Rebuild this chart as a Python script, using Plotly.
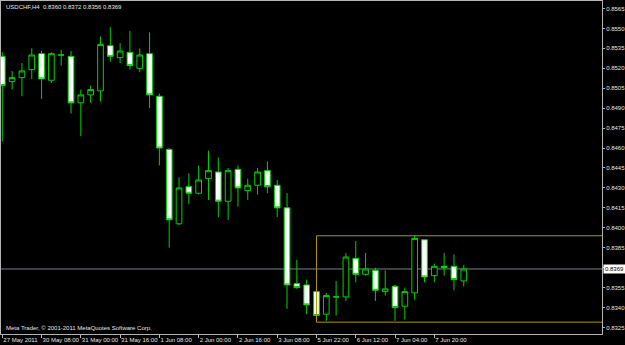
import plotly.graph_objects as go

# ---- data (USDCHF, H4) ----
bar_times = [
    "2011-05-27 20:00", "2011-05-29 22:00", "2011-05-30 00:00", "2011-05-30 04:00",
    "2011-05-30 08:00", "2011-05-30 12:00", "2011-05-30 16:00", "2011-05-30 20:00",
    "2011-05-31 00:00", "2011-05-31 04:00", "2011-05-31 08:00", "2011-05-31 12:00",
    "2011-05-31 16:00", "2011-05-31 20:00", "2011-06-01 00:00", "2011-06-01 04:00",
    "2011-06-01 08:00", "2011-06-01 12:00", "2011-06-01 16:00", "2011-06-01 20:00",
    "2011-06-02 00:00", "2011-06-02 04:00", "2011-06-02 08:00", "2011-06-02 12:00",
    "2011-06-02 16:00", "2011-06-02 20:00", "2011-06-03 00:00", "2011-06-03 04:00",
    "2011-06-03 08:00", "2011-06-03 12:00", "2011-06-03 16:00", "2011-06-03 20:00",
    "2011-06-05 22:00", "2011-06-06 00:00", "2011-06-06 04:00", "2011-06-06 08:00",
    "2011-06-06 12:00", "2011-06-06 16:00", "2011-06-06 20:00", "2011-06-07 00:00",
    "2011-06-07 04:00", "2011-06-07 08:00", "2011-06-07 12:00", "2011-06-07 16:00",
    "2011-06-07 20:00", "2011-06-08 00:00", "2011-06-08 04:00", "2011-06-08 08:00",
]
opens = [0.8529, 0.8510, 0.8513, 0.8519, 0.8531, 0.8511, 0.8530, 0.8529,
         0.8494, 0.8500, 0.8503, 0.8537, 0.8528, 0.8532, 0.8520, 0.8531,
         0.8499, 0.8459, 0.8403, 0.8431, 0.8426, 0.8437, 0.8442, 0.8420,
         0.8444, 0.8428, 0.8432, 0.8443, 0.8432, 0.8415, 0.8358, 0.8357,
         0.8352, 0.8335, 0.8348, 0.8348, 0.8377, 0.8365, 0.8368, 0.8352,
         0.8356, 0.8341, 0.8351, 0.8391, 0.8364, 0.8371, 0.8371, 0.8360]
highs = [0.8532, 0.8518, 0.8524, 0.8535, 0.8533, 0.8532, 0.8534, 0.8533,
         0.8504, 0.8507, 0.8544, 0.8551, 0.8539, 0.8548, 0.8535, 0.8547,
         0.8501, 0.8460, 0.8438, 0.8441, 0.8447, 0.8458, 0.8453, 0.8445,
         0.8447, 0.8437, 0.8445, 0.8450, 0.8436, 0.8426, 0.8376, 0.8361,
         0.8354, 0.8351, 0.8360, 0.8381, 0.8390, 0.8381, 0.8370, 0.8368,
         0.8357, 0.8355, 0.8394, 0.8391, 0.8373, 0.8381, 0.8380, 0.8372]
lows = [0.8465, 0.8504, 0.8499, 0.8512, 0.8497, 0.8509, 0.8522, 0.8486,
        0.8469, 0.8494, 0.8495, 0.8525, 0.8524, 0.8519, 0.8517, 0.8490,
        0.8447, 0.8385, 0.8402, 0.8418, 0.8425, 0.8421, 0.8408, 0.8406,
        0.8416, 0.8421, 0.8425, 0.8426, 0.8408, 0.8339, 0.8354, 0.8335,
        0.8329, 0.8330, 0.8334, 0.8345, 0.8359, 0.8364, 0.8345, 0.8349,
        0.8330, 0.8331, 0.8346, 0.8359, 0.8359, 0.8364, 0.8353, 0.8356]
closes = [0.8507, 0.8513, 0.8518, 0.8530, 0.8512, 0.8531, 0.8530, 0.8494,
          0.8500, 0.8504, 0.8538, 0.8529, 0.8533, 0.8522, 0.8530, 0.8500,
          0.8460, 0.8406, 0.8430, 0.8426, 0.8436, 0.8443, 0.8420, 0.8443,
          0.8430, 0.8432, 0.8442, 0.8431, 0.8415, 0.8357, 0.8355, 0.8342,
          0.8334, 0.8349, 0.8348, 0.8378, 0.8365, 0.8369, 0.8353, 0.8354,
          0.8340, 0.8352, 0.8392, 0.8363, 0.8371, 0.8370, 0.8361, 0.8369]

tick_times = ["2011-05-27 20:00", "2011-05-30 08:00", "2011-05-31 00:00", "2011-05-31 16:00",
              "2011-06-01 08:00", "2011-06-02 00:00", "2011-06-02 16:00", "2011-06-03 08:00",
              "2011-06-05 22:00", "2011-06-06 12:00", "2011-06-07 04:00", "2011-06-07 20:00"]
tick_labels = ["27 May 2011", "30 May 08:00", "31 May 00:00", "31 May 16:00",
               "1 Jun 08:00", "2 Jun 00:00", "2 Jun 16:00", "3 Jun 08:00",
               "5 Jun 22:00", "6 Jun 12:00", "7 Jun 04:00", "7 Jun 20:00"]
price_ticks = [0.8325, 0.8340, 0.8355, 0.8370, 0.8385, 0.8400, 0.8415, 0.8430, 0.8445,
               0.8460, 0.8475, 0.8490, 0.8505, 0.8520, 0.8535, 0.8550, 0.8565]
price_tick_labels = ["%.4f" % v for v in price_ticks]

symbol = "USDCHF,H4"
bid = closes[-1]
box_start = "2011-06-05 22:00"

# ---- styling ----
FONT = "Liberation Sans"
FS = 6
TXT = "#E6E6E6"
FRAME = "#B4B4B4"
GREEN = "#00D200"

fig = go.Figure()
fig.add_trace(go.Candlestick(
    x=bar_times, open=opens, high=highs, low=lows, close=closes,
    increasing=dict(line=dict(color=GREEN, width=1), fillcolor="#000000"),
    decreasing=dict(line=dict(color=GREEN, width=1), fillcolor="#FFFFFF"),
    whiskerwidth=0, hoverinfo="skip", showlegend=False,
))

# rectangle object over the last range
start_idx = bar_times.index(box_start)
fig.add_shape(type="rect", xref="x", yref="y",
              x0=start_idx, x1=61.3,
              y0=min(lows[start_idx:]), y1=max(highs[start_idx:]),
              line=dict(color="#B09600", width=1), fillcolor="rgba(0,0,0,0)", layer="above")
# bid line
fig.add_shape(type="line", xref="paper", yref="y", x0=0, x1=1, y0=bid, y1=bid,
              line=dict(color="#6F8290", width=1), layer="below")

o, h, l, c = opens[-1], highs[-1], lows[-1], closes[-1]
fig.add_annotation(xref="paper", yref="paper", x=0.005, y=0.997, xanchor="left", yanchor="top",
                   text=f"{symbol}  {o:.4f} {h:.4f} {l:.4f} {c:.4f}", showarrow=False,
                   font=dict(family=FONT, size=FS, color=TXT))
fig.add_annotation(xref="paper", yref="paper", x=0.005, y=0.0, xanchor="left", yanchor="bottom",
                   yshift=1,
                   text="Meta Trader, © 2001-2011 MetaQuotes Software Corp.", showarrow=False,
                   font=dict(family=FONT, size=FS, color=TXT))
fig.add_annotation(xref="paper", yref="y", x=1, y=bid, xanchor="left", yanchor="middle",
                   xshift=1, text=f"{bid:.4f}", showarrow=False, bgcolor="#FFFFFF",
                   borderpad=1, font=dict(family=FONT, size=FS, color="#000000"))

fig.update_layout(
    width=625, height=345,
    margin=dict(l=1, r=23, t=1, b=11),
    paper_bgcolor="#000000", plot_bgcolor="#000000",
    boxgap=0.42, boxgroupgap=0,
    showlegend=False,
    font=dict(family=FONT, size=FS, color=TXT),
)
fig.update_xaxes(
    type="category", range=[-0.132, 61.08], rangeslider=dict(visible=False),
    tickmode="array", tickvals=tick_times, ticktext=tick_labels, tickangle=0,
    ticks="outside", ticklen=3, tickcolor=FRAME, ticklabelposition="outside right",
    tickfont=dict(family=FONT, size=FS, color=TXT), automargin=False,
    showgrid=False, zeroline=False,
    showline=True, linecolor=FRAME, linewidth=1, mirror=True,
)
fig.update_yaxes(
    side="right", range=[0.832008, 0.857064], automargin=False,
    tickmode="array", tickvals=price_ticks, ticktext=price_tick_labels,
    ticks="outside", ticklen=2, tickcolor=FRAME,
    tickfont=dict(family=FONT, size=FS, color=TXT),
    showgrid=False, zeroline=False,
    showline=True, linecolor=FRAME, linewidth=1, mirror=True,
)

fig.write_html("out.html")
